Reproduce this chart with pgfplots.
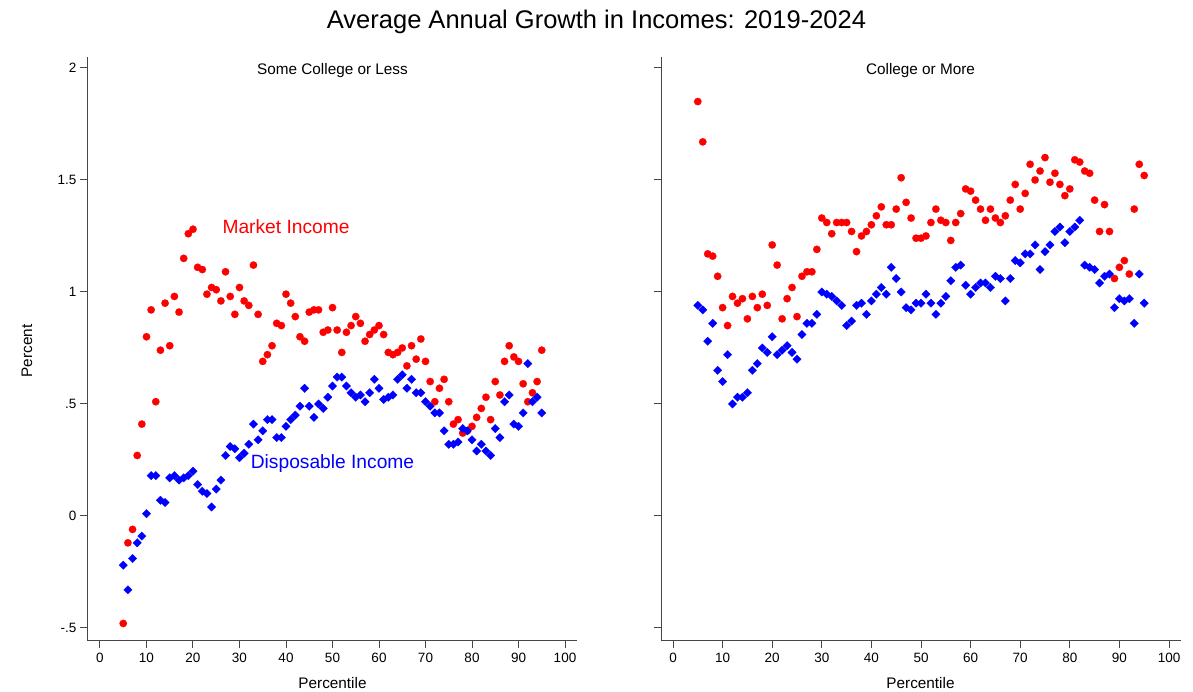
\documentclass[border=0pt]{standalone}
\usepackage{fontspec}
\setmainfont{Liberation Sans}
\usepackage{pgfplots}
\pgfplotsset{compat=1.18}
\usepackage{pgfplotstable}

\definecolor{mktred}{RGB}{255,0,0}
\definecolor{dispblue}{RGB}{0,0,255}
\definecolor{axisgray}{RGB}{70,70,70}

\newcommand\tickfont{\fontsize{13.5}{16}\selectfont}
\newcommand\labfont{\fontsize{15.3}{18}\selectfont}
\newcommand\titlefont{\fontsize{25.5}{30}\selectfont}
\newcommand\serfont{\fontsize{19.2}{23}\selectfont}

% percentile, market income growth, disposable income growth
\pgfplotstableread{
pct market disp
5 -0.48 -0.22
6 -0.12 -0.33
7 -0.06 -0.19
8 0.27 -0.12
9 0.41 -0.09
10 0.80 0.01
11 0.92 0.18
12 0.51 0.18
13 0.74 0.07
14 0.95 0.06
15 0.76 0.17
16 0.98 0.18
17 0.91 0.16
18 1.15 0.17
19 1.26 0.18
20 1.28 0.20
21 1.11 0.14
22 1.10 0.11
23 0.99 0.10
24 1.02 0.04
25 1.01 0.12
26 0.96 0.16
27 1.09 0.27
28 0.98 0.31
29 0.90 0.30
30 1.02 0.26
31 0.96 0.28
32 0.94 0.32
33 1.12 0.41
34 0.90 0.34
35 0.69 0.38
36 0.72 0.43
37 0.76 0.43
38 0.86 0.35
39 0.85 0.35
40 0.99 0.40
41 0.95 0.43
42 0.89 0.45
43 0.80 0.49
44 0.78 0.57
45 0.91 0.49
46 0.92 0.44
47 0.92 0.50
48 0.82 0.48
49 0.83 0.53
50 0.93 0.58
51 0.83 0.62
52 0.73 0.62
53 0.82 0.58
54 0.85 0.55
55 0.89 0.53
56 0.86 0.54
57 0.78 0.51
58 0.81 0.55
59 0.83 0.61
60 0.85 0.57
61 0.81 0.52
62 0.73 0.53
63 0.72 0.54
64 0.73 0.61
65 0.75 0.63
66 0.67 0.57
67 0.76 0.61
68 0.70 0.55
69 0.79 0.55
70 0.69 0.51
71 0.60 0.49
72 0.51 0.46
73 0.57 0.46
74 0.61 0.38
75 0.51 0.32
76 0.41 0.32
77 0.43 0.33
78 0.37 0.39
79 0.38 0.38
80 0.40 0.34
81 0.44 0.29
82 0.48 0.32
83 0.53 0.29
84 0.43 0.27
85 0.60 0.39
86 0.54 0.35
87 0.69 0.51
88 0.76 0.54
89 0.71 0.41
90 0.69 0.40
91 0.59 0.46
92 0.51 0.68
93 0.55 0.51
94 0.60 0.53
95 0.74 0.46
}\lesscollege

\pgfplotstableread{
pct market disp
5 1.85 0.94
6 1.67 0.92
7 1.17 0.78
8 1.16 0.86
9 1.07 0.65
10 0.93 0.60
11 0.85 0.72
12 0.98 0.50
13 0.95 0.53
14 0.97 0.53
15 0.88 0.55
16 0.98 0.65
17 0.93 0.68
18 0.99 0.75
19 0.94 0.73
20 1.21 0.80
21 1.12 0.72
22 0.88 0.74
23 0.97 0.76
24 1.02 0.73
25 0.89 0.70
26 1.07 0.81
27 1.09 0.86
28 1.09 0.86
29 1.19 0.90
30 1.33 1.00
31 1.31 0.99
32 1.26 0.98
33 1.31 0.96
34 1.31 0.94
35 1.31 0.85
36 1.27 0.87
37 1.18 0.94
38 1.25 0.95
39 1.27 0.90
40 1.30 0.96
41 1.34 0.99
42 1.38 1.02
43 1.30 0.99
44 1.30 1.11
45 1.37 1.06
46 1.51 1.00
47 1.40 0.93
48 1.33 0.92
49 1.24 0.95
50 1.24 0.95
51 1.25 0.99
52 1.31 0.95
53 1.37 0.90
54 1.32 0.95
55 1.31 0.98
56 1.23 1.05
57 1.31 1.11
58 1.35 1.12
59 1.46 1.03
60 1.45 0.99
61 1.41 1.02
62 1.37 1.04
63 1.32 1.04
64 1.37 1.02
65 1.33 1.07
66 1.31 1.06
67 1.34 0.96
68 1.41 1.06
69 1.48 1.14
70 1.37 1.13
71 1.44 1.17
72 1.57 1.17
73 1.50 1.21
74 1.54 1.10
75 1.60 1.18
76 1.49 1.21
77 1.53 1.27
78 1.48 1.29
79 1.43 1.22
80 1.46 1.27
81 1.59 1.29
82 1.58 1.32
83 1.54 1.12
84 1.53 1.11
85 1.41 1.10
86 1.27 1.04
87 1.39 1.07
88 1.27 1.08
89 1.06 0.93
90 1.11 0.97
91 1.14 0.96
92 1.08 0.97
93 1.37 0.86
94 1.57 1.08
95 1.52 0.95
}\collegemore

\pgfplotsset{
  panel/.style={
    scale only axis,
    height=583.7pt,
    ymin=-0.557, ymax=2.049,
    axis x line*=bottom, axis y line*=left,
    axis line style={line width=1pt, draw=axisgray},
    tick align=outside,
    major tick length=7.5pt,
    tick style={line width=1pt, draw=axisgray},
    xtick={0,10,...,100},
    xticklabels={0,10,20,30,40,50,60,70,80,90,100},
    ytick={-0.5,0,0.5,1,1.5,2},
    ticklabel style={font=\tickfont, text=black},
    xticklabel style={yshift=-1.5pt},
    clip=false,
  },
  mktmarks/.style={only marks, color=mktred, mark=*, mark size=3.7pt,
    mark options={solid, fill=mktred, draw=mktred, line width=0.2pt}},
  dispmarks/.style={only marks, color=dispblue, mark=square*, mark size=3.0pt,
    mark options={solid, rotate=45, fill=dispblue, draw=dispblue, line width=0.2pt}},
}

\begin{document}
\begin{tikzpicture}[x=1pt,y=1pt]
\path[use as bounding box] (0,0) rectangle (1193,691);

% Some college or less
\begin{axis}[panel,
  at={(87.3pt,50.3pt)}, anchor=south west,
  width=489.7pt,
  xmin=-2.73, xmax=102.58,
  yticklabels={-.5,0,.5,1,1.5,2},
]
\addplot[mktmarks] table[x=pct, y=market] {\lesscollege};
\addplot[dispmarks] table[x=pct, y=disp] {\lesscollege};
\node[anchor=base, text=mktred, font=\serfont, inner sep=0pt] at (axis cs:40.0,1.259) {Market Income};
\node[anchor=base, text=dispblue, font=\serfont, inner sep=0pt] at (axis cs:50.0,0.213) {Disposable Income};
\end{axis}

% College or more: ticks on the y axis, no labels
\begin{axis}[panel,
  at={(661pt,50.3pt)}, anchor=south west,
  width=520pt,
  xmin=-2.42, xmax=102.42,
  yticklabels={{},{},{},{},{},{}},
]
\addplot[mktmarks] table[x=pct, y=market] {\collegemore};
\addplot[dispmarks] table[x=pct, y=disp] {\collegemore};
\end{axis}

% titles and axis labels
\node[anchor=base, font=\titlefont, inner sep=0pt] at (596.5,662) {Average Annual Growth in Incomes: 2019-2024};
\node[anchor=base, font=\labfont, inner sep=0pt] at (332.5,616.5) {Some College or Less};
\node[anchor=base, font=\labfont, inner sep=0pt] at (920.5,616.5) {College or More};
\node[anchor=base, font=\labfont, inner sep=0pt] at (332.5,2.7) {Percentile};
\node[anchor=base, font=\labfont, inner sep=0pt] at (920.5,2.7) {Percentile};
\node[rotate=90, font=\labfont, inner sep=0pt] at (27,340) {Percent};
\end{tikzpicture}
\end{document}
